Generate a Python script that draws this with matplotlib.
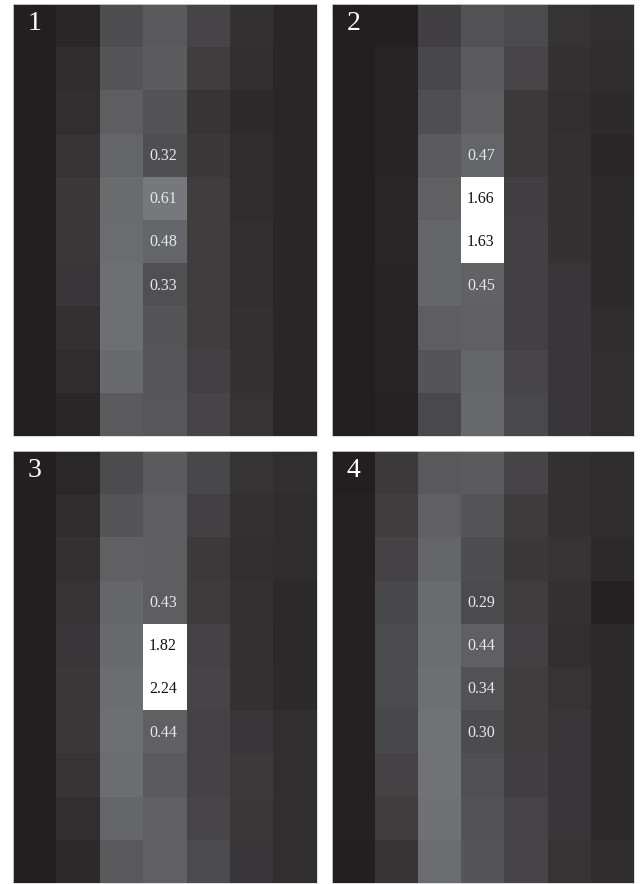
import matplotlib
matplotlib.use("Agg")
import matplotlib.pyplot as plt
from matplotlib.colors import LinearSegmentedColormap, Normalize
import numpy as np

# 10 rows x 7 columns per panel, values read row by row (top to bottom)
grid1 = [
    [0.00, 0.05, 0.31, 0.39, 0.25, 0.13, 0.05],
    [0.00, 0.09, 0.36, 0.41, 0.20, 0.10, 0.05],
    [0.00, 0.11, 0.43, 0.35, 0.15, 0.08, 0.05],
    [0.00, 0.14, 0.47, 0.32, 0.17, 0.09, 0.05],
    [0.01, 0.17, 0.51, 0.61, 0.20, 0.09, 0.05],
    [0.01, 0.17, 0.52, 0.48, 0.21, 0.11, 0.05],
    [0.01, 0.16, 0.54, 0.33, 0.21, 0.11, 0.05],
    [0.00, 0.12, 0.54, 0.36, 0.21, 0.12, 0.05],
    [0.00, 0.09, 0.50, 0.37, 0.23, 0.13, 0.05],
    [0.00, 0.05, 0.40, 0.38, 0.25, 0.14, 0.05],
]
grid2 = [
    [0.00, 0.01, 0.22, 0.34, 0.29, 0.14, 0.11],
    [0.00, 0.04, 0.27, 0.40, 0.26, 0.12, 0.09],
    [0.00, 0.04, 0.32, 0.43, 0.18, 0.10, 0.08],
    [0.00, 0.04, 0.40, 0.47, 0.18, 0.12, 0.05],
    [0.00, 0.05, 0.44, 1.66, 0.22, 0.13, 0.07],
    [0.00, 0.05, 0.47, 1.63, 0.23, 0.13, 0.08],
    [0.00, 0.04, 0.48, 0.45, 0.23, 0.16, 0.08],
    [0.00, 0.04, 0.43, 0.44, 0.23, 0.16, 0.09],
    [0.00, 0.04, 0.36, 0.47, 0.26, 0.16, 0.11],
    [0.00, 0.03, 0.28, 0.49, 0.28, 0.16, 0.11],
]
grid3 = [
    [0.00, 0.06, 0.30, 0.40, 0.27, 0.14, 0.11],
    [0.00, 0.09, 0.36, 0.43, 0.23, 0.12, 0.09],
    [0.00, 0.12, 0.44, 0.43, 0.18, 0.11, 0.09],
    [0.00, 0.14, 0.48, 0.43, 0.19, 0.12, 0.07],
    [0.00, 0.16, 0.50, 1.82, 0.24, 0.13, 0.07],
    [0.00, 0.17, 0.53, 2.24, 0.25, 0.13, 0.08],
    [0.00, 0.17, 0.54, 0.44, 0.24, 0.16, 0.11],
    [0.00, 0.15, 0.53, 0.40, 0.24, 0.18, 0.11],
    [0.00, 0.11, 0.48, 0.44, 0.26, 0.17, 0.11],
    [0.00, 0.08, 0.39, 0.44, 0.30, 0.16, 0.11],
]
grid4 = [
    [0.00, 0.18, 0.39, 0.40, 0.25, 0.12, 0.09],
    [0.02, 0.20, 0.44, 0.36, 0.19, 0.12, 0.09],
    [0.02, 0.24, 0.47, 0.31, 0.17, 0.14, 0.07],
    [0.02, 0.27, 0.51, 0.29, 0.20, 0.12, 0.02],
    [0.02, 0.29, 0.53, 0.44, 0.23, 0.11, 0.08],
    [0.02, 0.29, 0.54, 0.34, 0.20, 0.14, 0.08],
    [0.02, 0.27, 0.56, 0.30, 0.20, 0.16, 0.08],
    [0.02, 0.24, 0.56, 0.33, 0.22, 0.16, 0.08],
    [0.02, 0.20, 0.55, 0.35, 0.25, 0.16, 0.08],
    [0.01, 0.15, 0.52, 0.36, 0.25, 0.14, 0.09],
]
grids = [grid1, grid2, grid3, grid4]
panel_labels = ["1", "2", "3", "4"]

# cells that carry a printed value: (row, col)
labelled = [(3, 3), (4, 3), (5, 3), (6, 3)]

cmap = LinearSegmentedColormap.from_list(
    "ink", [(0.0, "#231f20"), (0.33, "#6d6e71"), (1.0, "#ffffff")])
norm = Normalize(vmin=0.0, vmax=1.6, clip=True)

W, H = 640, 884
fig = plt.figure(figsize=(W / 100, H / 100), dpi=100)

# panel boxes in pixels: left, top, right, bottom
boxes = [(13, 4, 317, 436), (332, 4, 634, 436),
         (13, 451, 317, 883), (332, 451, 634, 883)]

for grid, lab, (x0, y0, x1, y1) in zip(grids, panel_labels, boxes):
    ax = fig.add_axes([x0 / W, 1 - y1 / H, (x1 - x0) / W, (y1 - y0) / H])
    data = np.array(grid)
    ax.imshow(data, cmap=cmap, norm=norm, aspect="auto", interpolation="nearest")
    ax.set_xticks([])
    ax.set_yticks([])
    for s in ax.spines.values():
        s.set_color("#d8d8d8")
        s.set_linewidth(0.6)
    for r, c in labelled:
        v = data[r, c]
        col = "#111111" if v > 1.0 else "#e8e8e8"
        ax.text(c - 0.05, r + 0.02, "%.2f" % v, ha="center", va="center",
                color=col, fontsize=11.5, family="Liberation Serif")
    ax.text(0.0, -0.05, lab, ha="center", va="center", color="white",
            fontsize=20, family="Liberation Serif")

fig.savefig("out.png", dpi=100)
